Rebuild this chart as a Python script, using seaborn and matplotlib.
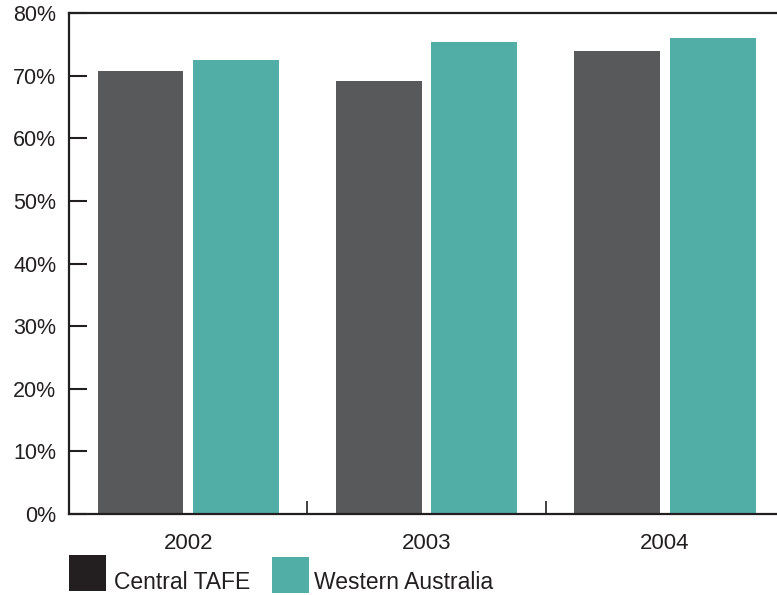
"""Course satisfaction bar chart: Central TAFE vs Western Australia, 2002-2004."""

import matplotlib

matplotlib.use("Agg")
import matplotlib.pyplot as plt  # noqa: E402
import pandas as pd  # noqa: E402
import seaborn as sns  # noqa: E402
from matplotlib.patches import Rectangle  # noqa: E402
from matplotlib.ticker import FixedLocator, FuncFormatter  # noqa: E402

years = ["2002", "2003", "2004"]
series = ["Central TAFE", "Western Australia"]
central_tafe = [70.7, 69.1, 73.9]
western_australia = [72.5, 75.4, 76.0]

bar_colors = ["#58595b", "#50aea6"]
legend_colors = ["#231f20", "#50aea6"]

W, H = 777, 595


def main() -> None:
    df = pd.DataFrame(
        {
            "year": years * 2,
            "group": [series[0]] * 3 + [series[1]] * 3,
            "value": central_tafe + western_australia,
        }
    )

    sns.set_theme(style="white")
    plt.rcParams["font.family"] = ["Liberation Sans", "DejaVu Sans"]

    fig = plt.figure(figsize=(W / 100, H / 100), dpi=100)
    ax = fig.add_axes([69 / W, 1 - 514 / H, 1 - 69 / W, 501 / H])

    sns.barplot(
        data=df, x="year", y="value", hue="group", palette=bar_colors,
        width=0.8, gap=0.1, saturation=1, legend=False, linewidth=0, ax=ax,
    )

    ax.set(xlim=(-0.5, 2.47), ylim=(0, 80), xlabel="", ylabel="")
    ax.set_yticks(range(0, 81, 10))
    ax.yaxis.set_major_formatter(FuncFormatter(lambda v, _: f"{int(v)}%"))
    ax.tick_params(axis="y", direction="in", length=13, width=1.5, color="#231f20",
                   labelsize=15.5, pad=9, labelcolor="#231f20", left=True)
    ax.tick_params(axis="x", which="major", length=0, labelsize=16, pad=14,
                   labelcolor="#231f20")
    ax.xaxis.set_minor_locator(FixedLocator([0.5, 1.5]))
    ax.tick_params(axis="x", which="minor", direction="in", length=9.5, width=1.2,
                   color="#231f20", bottom=True)

    for side in ("left", "bottom", "top"):
        ax.spines[side].set_color("#231f20")
        ax.spines[side].set_linewidth(1.6)
    ax.spines["right"].set_visible(False)

    # legend keys drawn below the axes, as in the source layout (pixel positions)
    keys = [(69, 555, 114), (272, 557, 314)]
    for (px, py, tx), color, label in zip(keys, legend_colors, series):
        fig.add_artist(Rectangle((px / W, 1 - (py + 36) / H), 37 / W, 36 / H,
                                 transform=fig.transFigure, facecolor=color,
                                 edgecolor="none"))
        fig.text(tx / W, 1 - 589 / H, label, fontsize=16.5, color="#231f20",
                 va="baseline", ha="left")

    fig.savefig("out.png", dpi=100)
    plt.close(fig)


if __name__ == "__main__":
    main()
